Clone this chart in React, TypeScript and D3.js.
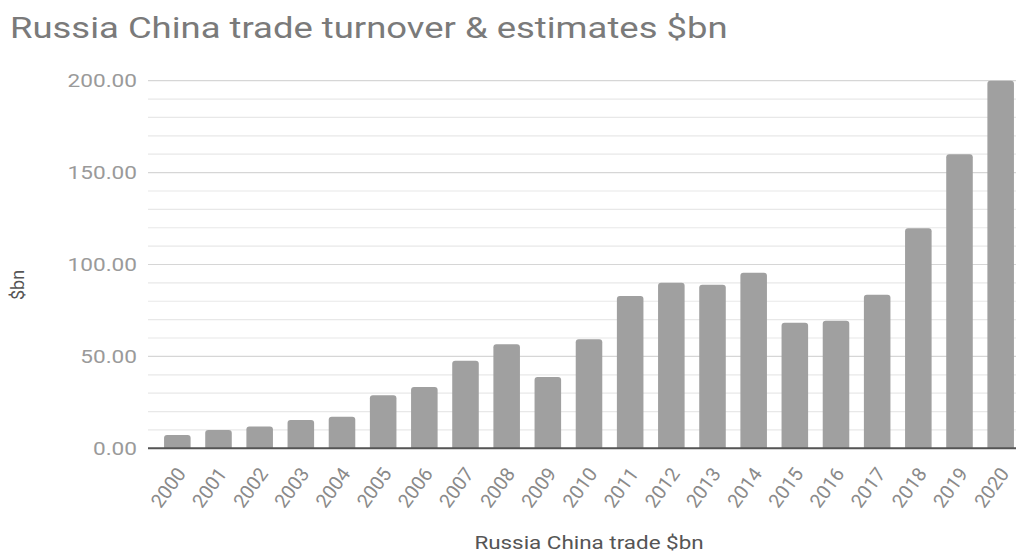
import React from "react";
import * as d3 from "d3";

const years = ["2000","2001","2002","2003","2004","2005","2006","2007","2008","2009","2010","2011","2012","2013","2014","2015","2016","2017","2018","2019","2020"];
const values = [7.2, 10.0, 11.8, 15.4, 17.2, 28.8, 33.4, 47.7, 56.6, 38.8, 59.3, 82.9, 90.1, 89.0, 95.5, 68.3, 69.4, 83.6, 119.7, 160.0, 200.0];
const majorTicks = [0, 50, 100, 150, 200];
const minorTicks = d3.range(0, 201, 10);

const W = 1016, H = 553;
const plotLeft = 148, plotRight = 1016;

export default function App() {
  const x = d3.scaleBand<string>().domain(years).range([148, 1030]).paddingInner(0.355).paddingOuter(0.39);
  const y = d3.scaleLinear().domain([0, 200]).range([448.3, 80.7]);
  const font = "Roboto, 'Noto Sans', sans-serif";
  const barPath = (x0: number, y0: number, w: number, h: number, r: number) => {
    const rr = Math.min(r, h, w / 2);
    return `M${x0},${y0 + h}V${y0 + rr}Q${x0},${y0} ${x0 + rr},${y0}H${x0 + w - rr}Q${x0 + w},${y0} ${x0 + w},${y0 + rr}V${y0 + h}Z`;
  };
  return (
    <svg width={W} height={H} style={{ position: "absolute", left: 0, top: 0, background: "#fff" }} fontFamily={font}>
      <g transform={`translate(10,38) scale(1.215,1)`}>
        <text x={0} y={0} fontSize={30} fill="#7a7a7a">Russia China trade turnover &amp; estimates $bn</text>
      </g>
      {minorTicks.map((t) => (
        <line key={"m" + t} x1={plotLeft} x2={plotRight} y1={y(t)} y2={y(t)} stroke={t % 50 === 0 ? "#d6d6d6" : "#e8e8e8"} strokeWidth={1.2} />
      ))}
      {majorTicks.map((t) => (
        <g key={"t" + t} transform={`translate(137,${y(t)}) scale(1.19,1)`}>
          <text x={0} y={0} dy="0.35em" textAnchor="end" fontSize={19} fill="#9a9a9a">{d3.format(".2f")(t)}</text>
        </g>
      ))}
      {years.map((yr, i) => {
        const bx = x(yr)!;
        const by = y(values[i]);
        return <path key={yr} d={barPath(bx, by, x.bandwidth(), y(0) - by, 3)} fill="#a0a0a0" />;
      })}
      <line x1={plotLeft} x2={plotRight} y1={y(0)} y2={y(0)} stroke="#555" strokeWidth={2} />
      {years.map((yr) => {
        const cx = x(yr)! + x.bandwidth() / 2 + 4;
        const cy = 470;
        return (
          <text key={"l" + yr} x={cx} y={cy} textAnchor="end" dominantBaseline="central" fontSize={19.5} fill="#8a8a8a" transform={`rotate(-54, ${cx}, ${cy})`}>{yr}</text>
        );
      })}
      <g transform={`translate(589,549) scale(1.18,1)`}>
        <text x={0} y={0} textAnchor="middle" fontSize={19} fill="#555">Russia China trade $bn</text>
      </g>
      <text transform={`translate(24, 285) rotate(-90)`} textAnchor="middle" fontSize={18} fill="#555">$bn</text>
    </svg>
  );
}
